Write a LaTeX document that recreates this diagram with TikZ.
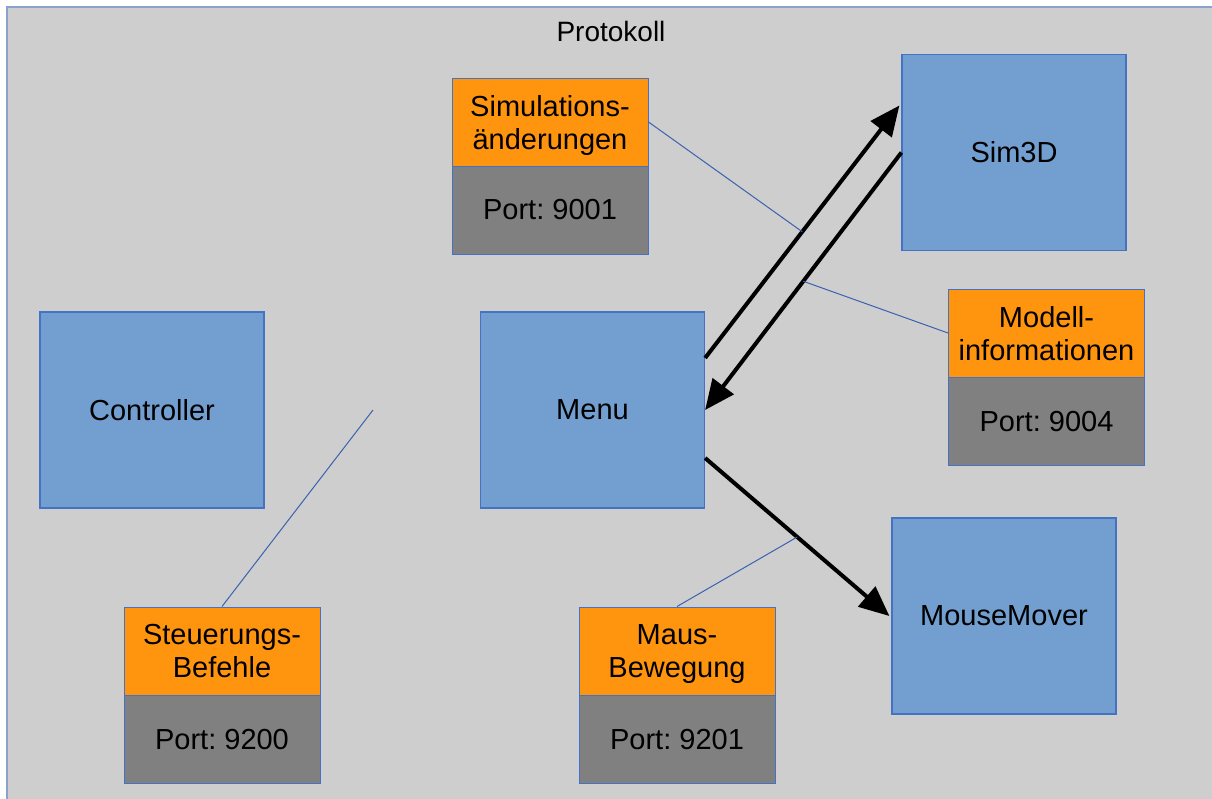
\documentclass[tikz,border=0pt]{standalone}
\usepackage{fontspec}
\setmainfont{Liberation Sans}
\usetikzlibrary{arrows.meta,calc}
\frenchspacing
\definecolor{bgfill}{RGB}{206,206,206}
\definecolor{framecol}{RGB}{140,162,206}
\definecolor{bluefill}{RGB}{114,159,207}
\definecolor{blueline}{RGB}{68,114,196}
\definecolor{orangefill}{RGB}{255,149,14}
\definecolor{grayfill}{RGB}{128,128,128}
\definecolor{thinline}{RGB}{58,98,176}
\tikzset{
  comp/.style={draw=blueline, line width=1.2pt, fill=bluefill, minimum width=224pt, minimum height=196pt, inner sep=0pt, font=\fontsize{29}{33}\selectfont},
  topic/.style={draw=blueline, line width=1pt, fill=orangefill, minimum width=196pt, minimum height=88pt, inner sep=0pt, align=center, text depth=0pt, font=\fontsize{29}{33}\selectfont},
  portbox/.style={draw=blueline, line width=1pt, fill=grayfill, minimum width=196pt, minimum height=88pt, inner sep=0pt, font=\fontsize{29}{33}\selectfont},
  flow/.style={line width=4pt, -{Triangle[length=30pt,width=26pt]}},
  link/.style={draw=thinline, line width=1pt}
}
\begin{document}
\begin{tikzpicture}[x=1pt,y=-1pt]
\useasboundingbox (0,0) rectangle (1212,798);
\begin{scope}
\clip (0,0) rectangle (1212,798);
\draw[draw=framecol, line width=2pt, fill=bgfill] (7,7) rectangle (1240,830);
\end{scope}
\node[font=\fontsize{28}{33}\selectfont] (title) at (611,31) {Protokoll};
\node[comp] (controller) at (152,410) {Controller};
\node[comp] (menu) at (592.5,410) {Menu};
\node[comp] (sim3d) at (1014,152.5) {Sim3D};
\node[comp] (mouse) at (1004,616) {MouseMover};
\node[topic] (simO) at (550,122) {Simulations-\\änderungen};
\node[portbox] (simG) at (550,210) {Port: 9001};
\node[topic] (modO) at (1046.5,333) {Modell-\\informationen};
\node[portbox] (modG) at (1046.5,421.5) {Port: 9004};
\node[topic] (steO) at (222,651) {Steuerungs-\\Befehle};
\node[portbox] (steG) at (222,739.5) {Port: 9200};
\node[topic] (mauO) at (677,651) {Maus-\\Bewegung};
\node[portbox] (mauG) at (677,739.5) {Port: 9201};
\draw[flow] ([yshift=52pt]menu.east) -- ([xshift=-2pt,yshift=47pt]sim3d.west) coordinate[pos=0.5] (m1);
\draw[flow] (sim3d.west) -- (menu.east) coordinate[pos=0.5] (m2);
\draw[flow] ([yshift=-48pt]menu.east) -- ([xshift=-2pt]mouse.west) coordinate[pos=0.5] (m3);
\coordinate (free) at (373,410);
\draw[link] (simO.east) -- (m1);
\draw[link] (modO.west) -- (m2);
\draw[link] (steO.north) -- (free);
\draw[link] (mauO.north) -- (m3);
\end{tikzpicture}
\end{document}
